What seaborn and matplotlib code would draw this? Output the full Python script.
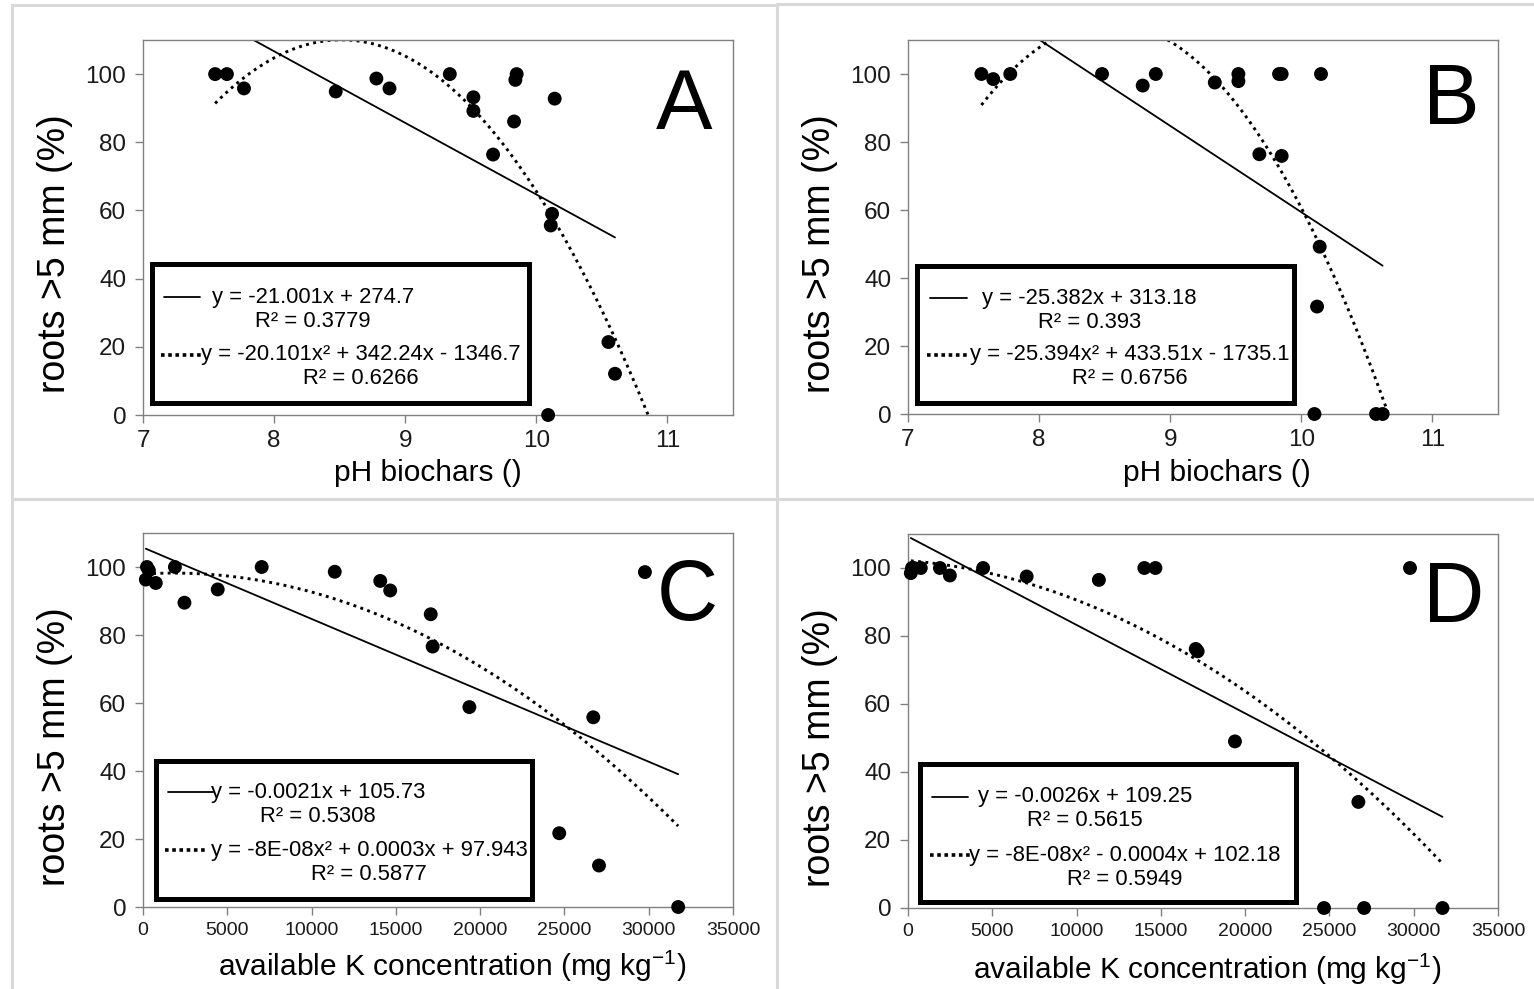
import numpy as np
import matplotlib
matplotlib.use("Agg")
import matplotlib.pyplot as plt
import seaborn as sns
from matplotlib.lines import Line2D
from matplotlib.patches import Rectangle

# ---------------- data ----------------
# Panel A: pH vs roots >5 mm (%)
A_x = [7.55, 7.64, 7.77, 8.47, 8.78, 8.88, 9.34, 9.52, 9.52, 9.67, 9.85, 9.84, 9.83,
       10.14, 10.12, 10.11, 10.55, 10.60, 10.09]
A_y = [100, 100, 95.8, 94.9, 98.7, 95.8, 100, 93.2, 89.2, 76.4, 100, 98.3, 86.1,
       92.8, 59.0, 55.6, 21.4, 12.1, 0]
# Panel B
B_x = [7.56, 7.65, 7.78, 8.48, 8.79, 8.89, 9.34, 9.52, 9.52, 9.68, 9.85, 9.83, 9.85,
       10.15, 10.14, 10.12, 10.57, 10.62, 10.10]
B_y = [100, 98.5, 100, 100, 96.6, 100, 97.5, 100, 97.9, 76.4, 75.9, 100, 100,
       100, 49.2, 31.6, 0, 0, 0]
# Panel C: available K vs roots
C_x = [168, 236, 350, 758, 1892, 2459, 4433, 7041, 11375, 14074, 14664, 17069, 17183,
       19361, 24692, 26712, 27051, 29775, 31748]
C_y = [96.3, 100, 99, 95.3, 100, 89.5, 93.4, 100, 98.6, 95.9, 93.1, 86.1, 76.6,
       58.8, 21.7, 55.8, 12.2, 98.5, 0]
# Panel D
D_x = [168, 236, 350, 758, 1893, 2483, 4456, 7040, 11324, 14020, 14678, 17069, 17183,
       19395, 24678, 26718, 27059, 29780, 31707]
D_y = [98.5, 100, 100, 100, 100, 97.8, 100, 97.5, 96.5, 100, 100, 76.2, 75.5,
       49, 0, 31.2, 0, 100, 0]

# trendline coefficients (highest power first)
A_lin = [-21.001, 274.7]
A_quad = [-20.101, 342.24, -1346.7]
B_lin = [-25.382, 313.18]
B_quad = [-25.394, 433.51, -1735.1]
C_lin = [-0.0021, 105.73]
C_quad = [-8.3e-08, 0.0003, 97.943]
D_lin = [-0.0026, 109.25]
D_quad = [-7.6e-08, -0.0004, 102.18]

A_eq = ["y = -21.001x + 274.7\nR² = 0.3779", "y = -20.101x² + 342.24x - 1346.7\nR² = 0.6266"]
B_eq = ["y = -25.382x + 313.18\nR² = 0.393", "y = -25.394x² + 433.51x - 1735.1\nR² = 0.6756"]
C_eq = ["y = -0.0021x + 105.73\nR² = 0.5308", "y = -8E-08x² + 0.0003x + 97.943\nR² = 0.5877"]
D_eq = ["y = -0.0026x + 109.25\nR² = 0.5615", "y = -8E-08x² - 0.0004x + 102.18\nR² = 0.5949"]

ph_ticks = [7, 8, 9, 10, 11]
k_ticks = [0, 5000, 10000, 15000, 20000, 25000, 30000, 35000]
y_ticks = [0, 20, 40, 60, 80, 100]

ylabel = "roots >5 mm (%)"
xlabel_ph = "pH biochars ()"
xlabel_k = "available K concentration (mg kg$^{-1}$)"

# ---------------- style ----------------
sns.set_theme(style="white")
plt.rcParams['font.family'] = ['Liberation Sans', 'DejaVu Sans']
plt.rcParams['mathtext.fontset'] = 'custom'
plt.rcParams['mathtext.rm'] = 'Liberation Sans'
plt.rcParams['mathtext.it'] = 'Liberation Sans:italic'
plt.rcParams['mathtext.bf'] = 'Liberation Sans:bold'

W, H = 1534, 989
fig = plt.figure(figsize=(W / 100, H / 100), dpi=100)
fig.patch.set_facecolor('white')

# panel separator lines (light gray)
gray = '#d9d9d9'
for (xs, ys) in [([12, 777], [5, 5]), ([777, W], [4, 4]), ([777, 777], [4, H]),
                 ([12, 12], [5, H]), ([12, W], [499, 499])]:
    fig.add_artist(Line2D([x / W for x in xs], [1 - y / H for y in ys],
                          transform=fig.transFigure, color=gray, lw=2.2))


def ax_rect(left, top, right, bottom):
    return [left / W, 1 - bottom / H, (right - left) / W, (bottom - top) / H]


SOLID = dict(color='black', lw=1.3)
DOT = dict(color='black', lw=2.1, linestyle=(0, (1, 1.5)))


def draw_panel(rect, x, y, lin, quad, eqs, extend_root, xlim, xticks, xtick_fs,
               xlabel, xlabel_pos, letter, letter_pos, box, textpos):
    ax = fig.add_axes(rect)
    x = np.asarray(x, float)
    y = np.asarray(y, float)
    sns.scatterplot(x=x, y=y, ax=ax, color='black', s=100, edgecolor='none',
                    zorder=3, legend=False, clip_on=False)
    xs = np.linspace(x.min(), x.max(), 50)
    sns.lineplot(x=xs, y=np.polyval(lin, xs), ax=ax, estimator=None, sort=False, **SOLID)
    end = x.max()
    if extend_root:
        end = max(end, np.real(np.roots(quad)).max())
    xq = np.linspace(x.min(), end, 400)
    sns.lineplot(x=xq, y=np.polyval(quad, xq), ax=ax, estimator=None, sort=False, **DOT)

    ax.set_xlim(*xlim)
    ax.set_ylim(0, 110)
    ax.set_xticks(xticks)
    ax.set_yticks(y_ticks)
    ax.set_xticklabels([str(t) for t in xticks])
    ax.tick_params(axis='x', labelsize=xtick_fs, direction='out', length=6, width=1,
                   color='#808080', labelcolor='#1a1a1a', pad=5, bottom=True)
    ax.tick_params(axis='y', labelsize=17.5, direction='out', length=6, width=1,
                   color='#808080', labelcolor='#1a1a1a', pad=6, left=True)
    for sp in ax.spines.values():
        sp.set_color('#808080')
        sp.set_linewidth(1.0)

    ax.set_ylabel(ylabel, fontsize=27, va='center', color='black')
    ax.yaxis.set_label_coords(-0.149, 0.43)
    ax.set_xlabel(xlabel, fontsize=21.5, va='center', color='black')
    ax.xaxis.set_label_coords(*xlabel_pos)

    ax.text(letter_pos[0], letter_pos[1], letter, transform=ax.transAxes,
            fontsize=61, ha='center', va='baseline', color='black')

    # legend box
    x0, y0, x1, y1 = box
    ax.add_patch(Rectangle((x0, y0), x1 - x0, y1 - y0, transform=ax.transAxes,
                           fill=False, edgecolor='black', lw=3.6, zorder=4, clip_on=False))
    (h1, t1, h2, t2) = textpos
    ax.add_line(Line2D([h1[0], h1[1]], [h1[2], h1[2]], transform=ax.transAxes,
                       zorder=5, **SOLID))
    ax.add_line(Line2D([h2[0], h2[1]], [h2[2], h2[2]], transform=ax.transAxes,
                       zorder=5, color='black', lw=2.6, linestyle=(0, (1, 1))))
    for (tx, ty), s in zip([t1, t2], eqs):
        ax.text(tx, ty, s, transform=ax.transAxes, fontsize=15.8, ha='center', va='center',
                multialignment='center', linespacing=1.2, zorder=5, color='black')
    return ax


# Panel A
draw_panel(ax_rect(143, 40, 733, 415), A_x, A_y, A_lin, A_quad, A_eq, True,
           (7, 11.5), ph_ticks, 17.5, xlabel_ph, (0.483, -0.155), 'A', (0.917, 0.762),
           (0.016, 0.032, 0.655, 0.402),
           ((0.035, 0.097, 0.315), (0.288, 0.282), (0.031, 0.102, 0.160), (0.370, 0.130)))
# Panel B
draw_panel(ax_rect(908, 40, 1498, 414), B_x, B_y, B_lin, B_quad, B_eq, True,
           (7, 11.5), ph_ticks, 17.5, xlabel_ph, (0.524, -0.158), 'B', (0.921, 0.775),
           (0.016, 0.030, 0.655, 0.395),
           ((0.037, 0.100, 0.310), (0.307, 0.277), (0.032, 0.102, 0.158), (0.376, 0.127)))
# Panel C
draw_panel(ax_rect(143, 533, 733, 907), C_x, C_y, C_lin, C_quad, C_eq, False,
           (0, 35000), k_ticks, 14, xlabel_k, (0.524, -0.160), 'C', (0.923, 0.767),
           (0.022, 0.022, 0.659, 0.390),
           ((0.043, 0.118, 0.308), (0.297, 0.275), (0.037, 0.111, 0.152), (0.383, 0.119)))
# Panel D
draw_panel(ax_rect(908, 534, 1498, 908), D_x, D_y, D_lin, D_quad, D_eq, False,
           (0, 35000), k_ticks, 14, xlabel_k, (0.507, -0.163), 'D', (0.924, 0.766),
           (0.020, 0.017, 0.658, 0.384),
           ((0.040, 0.102, 0.298), (0.300, 0.265), (0.037, 0.105, 0.142), (0.367, 0.109)))

fig.savefig('out.png', dpi=100, facecolor='white')
